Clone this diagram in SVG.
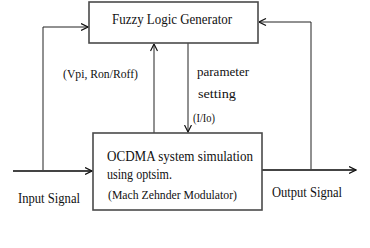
<svg xmlns="http://www.w3.org/2000/svg" width="370" height="248" viewBox="0 0 370 248">
<style>
.box{fill:#fff;stroke:#4a4a4a;stroke-width:1.6}
text{font-family:'Liberation Serif','Times New Roman',Times,serif;fill:#111}
.c{fill:none;stroke:#222;stroke-width:1}
.thick{fill:none;stroke:#444;stroke-width:2}
</style>
<defs>
<marker id="ah" viewBox="0 0 8 8" refX="7.5" refY="4" markerWidth="8" markerHeight="8" markerUnits="userSpaceOnUse" orient="auto">
<path d="M0.5,0.5 L7.5,4 L0.5,7.5" fill="none" stroke="#111" stroke-width="1.2"/>
</marker>
</defs>
<rect width="370" height="248" fill="#fff"/>
<g id="connectors">
<path class="c" d="M43,171 V27 H88" marker-end="url(#ah)"/>
<path class="c" d="M154,133 V44" marker-end="url(#ah)"/>
<path class="c" d="M188,43 V132" marker-end="url(#ah)"/>
<path class="c" d="M311,170 V22 H259" marker-end="url(#ah)"/>
<path class="thick" d="M13,171 H92" marker-end="url(#ah)"/>
<path class="thick" d="M262,170 H356" marker-end="url(#ah)"/>
</g>
<g id="fuzzy">
<rect class="box" x="89" y="2" width="169" height="41"/>
<text x="112" y="24" font-size="15" textLength="120" lengthAdjust="spacingAndGlyphs">Fuzzy Logic Generator</text>
</g>
<g id="ocdma">
<rect class="box" x="93" y="133" width="169" height="77"/>
<text x="107" y="161" font-size="15" textLength="146" lengthAdjust="spacingAndGlyphs">OCDMA system simulation</text>
<text x="107" y="179" font-size="15" textLength="65" lengthAdjust="spacingAndGlyphs">using optsim.</text>
<text x="108" y="199" font-size="12.5" textLength="129" lengthAdjust="spacingAndGlyphs">(Mach Zehnder Modulator)</text>
</g>
<g id="labels">
<text x="63" y="78" font-size="12.5" textLength="75" lengthAdjust="spacingAndGlyphs">(Vpi, Ron/Roff)</text>
<text x="197" y="76" font-size="13" textLength="52" lengthAdjust="spacingAndGlyphs">parameter</text>
<text x="198" y="98" font-size="13" textLength="38" lengthAdjust="spacingAndGlyphs">setting</text>
<text x="193" y="122" font-size="12.5" textLength="22" lengthAdjust="spacingAndGlyphs">(I/Io)</text>
<text x="18" y="203" font-size="14" textLength="62" lengthAdjust="spacingAndGlyphs">Input Signal</text>
<text x="272" y="197" font-size="14" textLength="70" lengthAdjust="spacingAndGlyphs">Output Signal</text>
</g>
</svg>
